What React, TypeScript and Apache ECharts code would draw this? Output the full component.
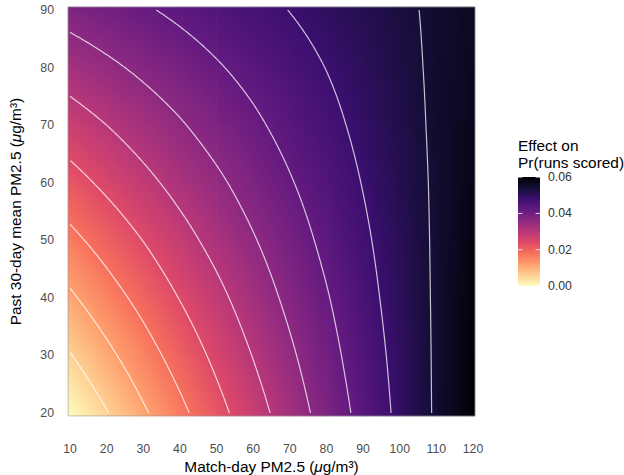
import React, { useEffect, useRef } from "react";
import * as echarts from "echarts";

// ---- data ----
const matchDayPM = [10, 20, 30, 40, 50, 60, 70, 80, 90, 100, 110, 120];
const past30DayPM = [20, 30, 40, 50, 60, 70, 80, 90];

// effect on Pr(runs scored) at (matchDayPM[i], past30DayPM[row])
const effectAt20 = [0.0003, 0.0057, 0.0112, 0.0166, 0.0221, 0.0275, 0.0329, 0.0384, 0.0438, 0.0493, 0.0547, 0.0601];
const effectAt30 = [0.0057, 0.0106, 0.0155, 0.0204, 0.0253, 0.0302, 0.0351, 0.04, 0.0449, 0.0498, 0.0547, 0.0596];
const effectAt40 = [0.0111, 0.0155, 0.0198, 0.0242, 0.0285, 0.0329, 0.0373, 0.0416, 0.046, 0.0504, 0.0547, 0.0591];
const effectAt50 = [0.0165, 0.0203, 0.0241, 0.028, 0.0318, 0.0356, 0.0394, 0.0433, 0.0471, 0.0509, 0.0547, 0.0586];
const effectAt60 = [0.0219, 0.0252, 0.0285, 0.0318, 0.035, 0.0383, 0.0416, 0.0449, 0.0482, 0.0515, 0.0547, 0.058];
const effectAt70 = [0.0273, 0.03, 0.0328, 0.0355, 0.0383, 0.041, 0.0438, 0.0465, 0.0493, 0.052, 0.0548, 0.0575];
const effectAt80 = [0.0327, 0.0349, 0.0371, 0.0393, 0.0415, 0.0437, 0.0459, 0.0481, 0.0503, 0.0526, 0.0548, 0.057];
const effectAt90 = [0.0381, 0.0398, 0.0414, 0.0431, 0.0448, 0.0464, 0.0481, 0.0498, 0.0514, 0.0531, 0.0548, 0.0564];
const effectRows = [effectAt20, effectAt30, effectAt40, effectAt50, effectAt60, effectAt70, effectAt80, effectAt90];

const contourLevels = [0.006, 0.012, 0.018, 0.024, 0.03, 0.036, 0.042, 0.048, 0.054];
const xTickValues = [10, 20, 30, 40, 50, 60, 70, 80, 90, 100, 110, 120];
const yTickValues = [20, 30, 40, 50, 60, 70, 80, 90];
const legendTickValues = [0, 0.02, 0.04, 0.06];
const colorLimits = [0, 0.0601];

// ---- styling ----
const MAGMA = ["#000004", "#140E36", "#3B0F70", "#641A80", "#8C2981", "#B73779", "#DE4968", "#F7705C", "#FE9F6D", "#FECF92", "#FCFDBF"];
const FONT = "'Liberation Sans', Arial, Helvetica, sans-serif";
const TITLE_SIZE = 15.4;
const TICK_SIZE = 12.3;

const MAGMA_RGB = MAGMA.map((h) => {
  const n = parseInt(h.slice(1), 16);
  return [(n >> 16) & 255, (n >> 8) & 255, n & 255];
});

function magma(t: number): string {
  const tt = Math.max(0, Math.min(1, t));
  const p = tt * (MAGMA.length - 1);
  const i = Math.min(Math.floor(p), MAGMA.length - 2);
  const f = p - i;
  const a = MAGMA_RGB[i];
  const b = MAGMA_RGB[i + 1];
  const c = [0, 1, 2].map((k) => Math.round(a[k] + (b[k] - a[k]) * f));
  return `rgb(${c[0]},${c[1]},${c[2]})`;
}

function effectColor(v: number): string {
  return magma(1 - (v - colorLimits[0]) / (colorLimits[1] - colorLimits[0]));
}

// ---- contour tracing from the grid ----
function rowAt(Y: number): number[] {
  let j = 0;
  while (j < past30DayPM.length - 2 && Y > past30DayPM[j + 1]) j++;
  const t = (Y - past30DayPM[j]) / (past30DayPM[j + 1] - past30DayPM[j]);
  return effectRows[j].map((v, i) => v * (1 - t) + effectRows[j + 1][i] * t);
}

function crossX(row: number[], L: number): number | null {
  for (let i = 0; i < row.length - 1; i++) {
    const a = row[i];
    const b = row[i + 1];
    if ((a - L) * (b - L) <= 0 && a !== b) {
      return matchDayPM[i] + ((L - a) / (b - a)) * (matchDayPM[i + 1] - matchDayPM[i]);
    }
  }
  return null;
}

function contourLine(L: number): number[][] {
  const pts: number[][] = [];
  const y0 = past30DayPM[0];
  const y1 = past30DayPM[past30DayPM.length - 1];
  const steps = 420;
  for (let k = 0; k <= steps; k++) {
    const Y = y0 + ((y1 - y0) * k) / steps;
    const X = crossX(rowAt(Y), L);
    if (X !== null) pts.push([X, Y]);
  }
  const col0 = effectRows.map((r) => r[0]);
  for (let j = 0; j < col0.length - 1; j++) {
    const a = col0[j];
    const b = col0[j + 1];
    if ((a - L) * (b - L) <= 0 && a !== b) {
      pts.push([matchDayPM[0], past30DayPM[j] + ((L - a) / (b - a)) * (past30DayPM[j + 1] - past30DayPM[j])]);
    }
  }
  pts.sort((p, q) => p[1] - q[1]);
  return pts;
}

export default function App() {
  const ref = useRef<HTMLDivElement>(null);

  useEffect(() => {
    if (!ref.current) return;
    const chart = echarts.init(ref.current, undefined, { renderer: "svg" });

    const xs = matchDayPM;
    const ys = past30DayPM;
    const nx = xs.length;
    const ny = ys.length;

    const cellData: number[][] = [];
    for (let j = 0; j < ny - 1; j++) {
      for (let i = 0; i < nx - 1; i++) {
        cellData.push([
          xs[i], ys[j], xs[i + 1], ys[j + 1],
          effectRows[j][i], effectRows[j][i + 1], effectRows[j + 1][i], effectRows[j + 1][i + 1],
        ]);
      }
    }

    const renderCell = (_params: any, api: any) => {
      const x0 = api.value(0), y0 = api.value(1), x1 = api.value(2), y1 = api.value(3);
      const v00 = api.value(4), v10 = api.value(5), v01 = api.value(6), v11 = api.value(7);
      const c0 = api.coord([x0, y0]);
      const c1 = api.coord([x1, y1]);
      const e0 = api.coord([x0 - (x0 === xs[0] ? 0.5 : 0), y0 - (y0 === ys[0] ? 0.5 : 0)]);
      const e1 = api.coord([x1 + (x1 === xs[nx - 1] ? 0.5 : 0), y1 + (y1 === ys[ny - 1] ? 0.5 : 0)]);
      const w = c1[0] - c0[0];
      const h = c0[1] - c1[1];
      const b = (v10 - v00 + (v11 - v01)) / 2;
      const c = (v01 - v00 + (v11 - v10)) / 2;
      const m = (v00 + v10 + v01 + v11) / 4;
      const cx = (c0[0] + c1[0]) / 2;
      const cy = (c0[1] + c1[1]) / 2;
      const gx = b / w;
      const gy = -c / h;
      const g2 = gx * gx + gy * gy;
      let fill: any = effectColor(m);
      if (g2 > 0) {
        const D = (Math.abs(b) + Math.abs(c)) * 0.6;
        const k = D / g2;
        const stops = [];
        const n = 8;
        for (let s = 0; s <= n; s++) {
          const t = s / n;
          stops.push({ offset: t, color: effectColor(m - D + 2 * D * t) });
        }
        fill = {
          type: "linear",
          x: cx - k * gx,
          y: cy - k * gy,
          x2: cx + k * gx,
          y2: cy + k * gy,
          global: true,
          colorStops: stops,
        };
      }
      return {
        type: "rect",
        silent: true,
        shape: {
          x: e0[0] - 0.35,
          y: e1[1] - 0.35,
          width: e1[0] - e0[0] + 0.7,
          height: e0[1] - e1[1] + 0.7,
        },
        style: { fill },
      };
    };

    const renderBorder = (_params: any, api: any) => {
      const p0 = api.coord([api.value(0), api.value(1)]);
      const p1 = api.coord([api.value(2), api.value(3)]);
      return {
        type: "rect",
        silent: true,
        shape: { x: p0[0], y: p1[1], width: p1[0] - p0[0], height: p0[1] - p1[1] },
        style: { fill: "none", stroke: "rgba(150,150,150,0.55)", lineWidth: 1 },
      };
    };

    const contourSeries = contourLevels.map((L) => ({
      type: "line",
      name: `level ${L}`,
      data: contourLine(L),
      showSymbol: false,
      symbol: "none",
      silent: true,
      smooth: false,
      z: 5,
      lineStyle: { color: "rgba(255,255,255,0.75)", width: 1.2 },
    }));

    // legend geometry
    const barLeft = 518;
    const barWidth = 22;
    const barTop = 177;
    const barBottom = 286;
    const valToY = (v: number) =>
      barBottom - ((v - colorLimits[0]) / (colorLimits[1] - colorLimits[0])) * (barBottom - barTop);

    const legendGraphics: any[] = [
      {
        type: "text",
        x: barLeft,
        y: 145,
        style: { text: "Effect on", fontSize: TITLE_SIZE, fontFamily: FONT, fill: "#000", align: "left", verticalAlign: "middle" },
      },
      {
        type: "text",
        x: barLeft,
        y: 162,
        style: { text: "Pr(runs scored)", fontSize: TITLE_SIZE, fontFamily: FONT, fill: "#000", align: "left", verticalAlign: "middle" },
      },
      {
        type: "rect",
        shape: { x: barLeft, y: barTop, width: barWidth, height: barBottom - barTop },
        style: {
          fill: {
            type: "linear",
            x: 0,
            y: 0,
            x2: 0,
            y2: 1,
            colorStops: MAGMA.map((col, k) => ({ offset: k / (MAGMA.length - 1), color: col })),
          },
        },
      },
    ];
    legendTickValues.forEach((v) => {
      const y = valToY(v);
      legendGraphics.push({
        type: "line",
        shape: { x1: barLeft, y1: y, x2: barLeft + barWidth / 5, y2: y },
        style: { stroke: "rgba(255,255,255,0.8)", lineWidth: 1 },
      });
      legendGraphics.push({
        type: "line",
        shape: { x1: barLeft + barWidth - barWidth / 5, y1: y, x2: barLeft + barWidth, y2: y },
        style: { stroke: "rgba(255,255,255,0.8)", lineWidth: 1 },
      });
      legendGraphics.push({
        type: "text",
        x: barLeft + barWidth + 8,
        y,
        style: {
          text: v.toFixed(2),
          fontSize: TICK_SIZE,
          fontFamily: FONT,
          fill: "#333",
          align: "left",
          verticalAlign: "middle",
        },
      });
    });

    const titleGraphics: any[] = [
      {
        type: "text",
        x: 271.5,
        y: 466,
        style: {
          text: "{n|Match-day PM2.5 (}{i|μ}{n|g/m³)}",
          align: "center",
          verticalAlign: "middle",
          rich: {
            n: { fontSize: TITLE_SIZE, fontFamily: FONT, fill: "#000" },
            i: { fontSize: TITLE_SIZE, fontFamily: FONT, fill: "#000", fontStyle: "italic" },
          },
        },
      },
      {
        type: "text",
        x: 15,
        y: 211.5,
        rotation: Math.PI / 2,
        style: {
          text: "{n|Past 30-day mean PM2.5 (}{i|μ}{n|g/m³)}",
          align: "center",
          verticalAlign: "middle",
          rich: {
            n: { fontSize: TITLE_SIZE, fontFamily: FONT, fill: "#000" },
            i: { fontSize: TITLE_SIZE, fontFamily: FONT, fill: "#000", fontStyle: "italic" },
          },
        },
      },
    ];

    chart.setOption({
      animation: false,
      grid: { left: 70, right: 151, top: 10, bottom: 62, containLabel: false },
      xAxis: {
        type: "value",
        min: xTickValues[0],
        max: xTickValues[xTickValues.length - 1],
        interval: 10,
        axisLine: { show: false },
        axisTick: { show: false },
        splitLine: { show: false },
        axisLabel: { color: "#4d4d4d", fontSize: TICK_SIZE, fontFamily: FONT, margin: 30 },
      },
      yAxis: {
        type: "value",
        min: yTickValues[0],
        max: yTickValues[yTickValues.length - 1],
        interval: 10,
        axisLine: { show: false },
        axisTick: { show: false },
        splitLine: { show: false },
        axisLabel: { color: "#4d4d4d", fontSize: TICK_SIZE, fontFamily: FONT, margin: 16 },
      },
      series: [
        {
          type: "custom",
          name: "effect",
          renderItem: renderCell,
          data: cellData,
          encode: { x: [0, 2], y: [1, 3] },
          clip: false,
          silent: true,
          z: 1,
        },
        {
          type: "custom",
          name: "border",
          renderItem: renderBorder,
          data: [[xs[0] - 0.5, ys[0] - 0.5, xs[nx - 1] + 0.5, ys[ny - 1] + 0.5]],
          encode: { x: [0, 2], y: [1, 3] },
          clip: false,
          silent: true,
          z: 6,
        },
        ...contourSeries,
      ],
      graphic: [...titleGraphics, ...legendGraphics],
    });

    return () => chart.dispose();
  }, []);

  return (
    <div
      ref={ref}
      style={{ position: "fixed", left: 0, top: 0, width: 624, height: 475, background: "#fff" }}
    />
  );
}
